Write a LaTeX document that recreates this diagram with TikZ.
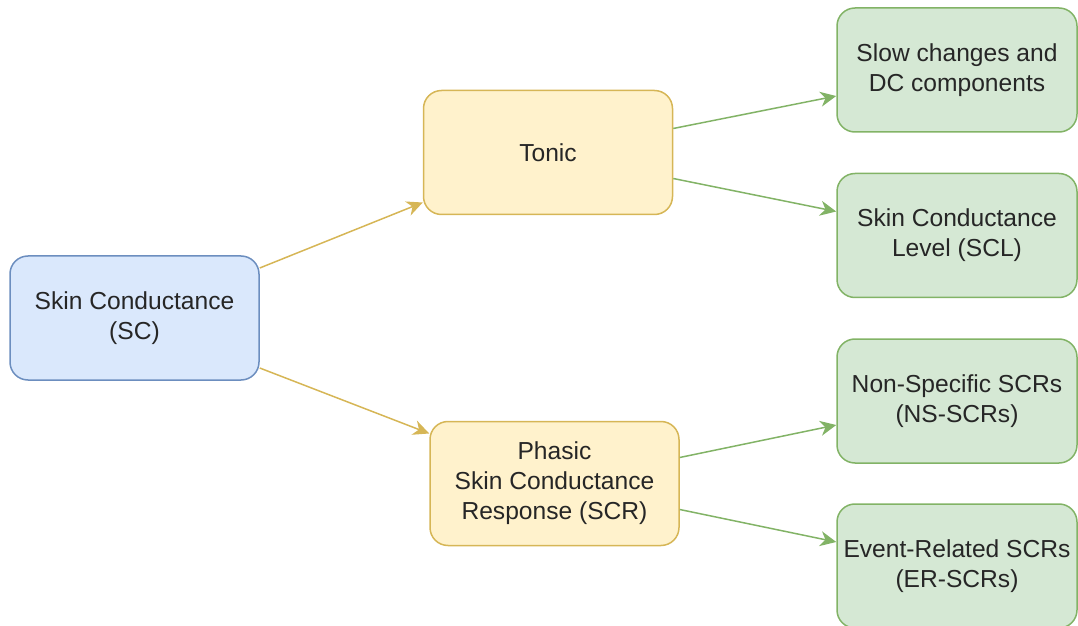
\documentclass[tikz,border=0pt]{standalone}
\usepackage{fontspec}
\setmainfont{Liberation Sans}
\usepackage{tikz}
\usetikzlibrary{arrows.meta,positioning}
\definecolor{bluefill}{HTML}{DAE8FC}
\definecolor{bluedraw}{HTML}{6C8EBF}
\definecolor{yelfill}{HTML}{FFF2CC}
\definecolor{yeldraw}{HTML}{D6B656}
\definecolor{grnfill}{HTML}{D5E8D4}
\definecolor{grndraw}{HTML}{82B366}
\tikzset{box/.style={draw,rounded corners=9pt,align=center,line width=0.75pt,inner sep=3pt,
    text=black!85,font=\fontsize{12.3}{15}\selectfont},
  arr/.style={-{Stealth[length=8pt,width=7.5pt,inset=2.5pt]},line width=0.75pt}}

\begin{document}
\begin{tikzpicture}[x=0.5pt,y=-0.5pt,
 sig/.style={box,fill=bluefill,draw=bluedraw,minimum width=124.5pt,minimum height=62pt},
 part/.style={box,fill=yelfill,draw=yeldraw,minimum width=124.5pt,minimum height=62pt},
 leaf/.style={box,fill=grnfill,draw=grndraw,minimum width=120pt,minimum height=62pt}]
\useasboundingbox (0,0) rectangle (1078,626);
\node[sig] (sc) at (134.5,318) {Skin Conductance\\(SC)};
\node[part] (ton) at (548,152.5) {Tonic};
\node[part] (pha) at (554.5,483.5) {Phasic\\Skin Conductance\\Response (SCR)};
\node[leaf] (slow) at (957,70) {Slow changes and\\DC components};
\node[leaf] (scl) at (957,235.5) {Skin Conductance\\Level (SCL)};
\node[leaf] (ns) at (957,401) {Non-Specific SCRs\\(NS-SCRs)};
\node[leaf] (er) at (957,566) {Event-Related SCRs\\(ER-SCRs)};
\draw[arr,yeldraw] ([yshift=25pt]sc.east) -- ([yshift=-25pt]ton.west);
\draw[arr,yeldraw] ([yshift=-25pt]sc.east) -- ([yshift=25pt]pha.west);
\draw[arr,grndraw] ([yshift=12pt]ton.east) -- ([yshift=-13pt]slow.west);
\draw[arr,grndraw] ([yshift=-13pt]ton.east) -- ([yshift=12pt]scl.west);
\draw[arr,grndraw] ([yshift=13pt]pha.east) -- ([yshift=-12pt]ns.west);
\draw[arr,grndraw] ([yshift=-13pt]pha.east) -- ([yshift=12pt]er.west);
\end{tikzpicture}
\end{document}
